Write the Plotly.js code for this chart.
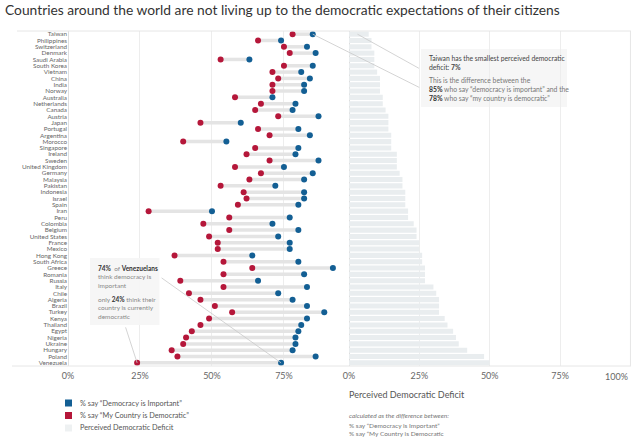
<!DOCTYPE html>
<html>
<head>
<meta charset="utf-8">
<script src="https://cdn.plot.ly/plotly-3.0.1.min.js"></script>
<style>html,body{margin:0;padding:0;background:#fff;}#chart{width:640px;height:444px;}</style>
</head>
<body>
<div id="chart"></div>
<script>
const countries = ["Taiwan","Philippines","Switzerland","Denmark","Saudi Arabia","South Korea","Vietnam","China","India","Norway","Australia","Netherlands","Canada","Austria","Japan","Portugal","Argentina","Morocco","Singapore","Ireland","Sweden","United Kingdom","Germany","Malaysia","Pakistan","Indonesia","Israel","Spain","Iran","Peru","Colombia","Belgium","United States","France","Mexico","Hong Kong","South Africa","Greece","Romania","Russia","Italy","Chile","Algeria","Brazil","Turkey","Kenya","Thailand","Egypt","Nigeria","Ukraine","Hungary","Poland","Venezuela"];

// % say "Democracy is Important"
const important = [85,74,83,86,63,85,81,84,82,82,71,79,78,87,60,80,84,55,80,79,87,75,85,82,72,82,82,80,50,77,71,80,73,77,77,64,80,92,82,66,83,73,78,83,89,83,81,80,79,79,78,86,74];

// % say "My Country is Democratic"
const myCountry = [78,66,75,77,53,75,71,73,71,71,58,67,65,73,46,66,70,40,65,62,70,58,67,63,53,61,62,59,28,56,47,56,49,52,52,37,54,64,54,39,54,42,46,51,57,49,46,43,41,40,36,38,24];

// Perceived democratic deficit (percentage points)
const deficit = [7,8,8,9,9,9,10,11,11,11,12,12,13,14,14,14,15,15,15,17,17,17,18,19,19,20,20,20,21,21,23,24,24,25,25,26,26,27,27,27,30,31,32,32,32,34,35,37,38,39,42,48,50];

const leftTicks = [0,25,50,75];
const leftTickText = ['0%','25%','50%','75%'];
const rightTicks = [0,25,50,75,100];
const rightTickText = ['0%','25%','50%','75%','100%'];
const legendLabels = ['% say “Democracy is Important”','% say “My Country is Democratic”','Perceived Democratic Deficit'];

const BLUE = '#135f94', RED = '#b5173a', BAR = '#e9edef', LINK = '#e4e4e4', TXT = '#555';
const FONT = 'Lato, "Open Sans", sans-serif';

// pixel -> paper helpers for decorations
const L = 68, R = 631, T = 31, B = 366;
const px = x => (x - L) / (R - L);
const py = y => (B - y) / (B - T);

// dumbbell connectors
const linkX = [], linkY = [];
countries.forEach((c, i) => { linkX.push(myCountry[i], important[i], null); linkY.push(c, c, null); });

const traces = [
  {type:'bar', orientation:'h', x:deficit, y:countries, xaxis:'x2', yaxis:'y',
   marker:{color:BAR}, hoverinfo:'skip', showlegend:false},
  {type:'scatter', mode:'lines', x:linkX, y:linkY, xaxis:'x', yaxis:'y',
   line:{color:LINK, width:3.5}, hoverinfo:'skip', showlegend:false, connectgaps:false},
  {type:'scatter', mode:'markers', x:myCountry, y:countries, xaxis:'x', yaxis:'y',
   marker:{color:RED, size:6}, name:legendLabels[1], showlegend:false},
  {type:'scatter', mode:'markers', x:important, y:countries, xaxis:'x', yaxis:'y',
   marker:{color:BLUE, size:6}, name:legendLabels[0], showlegend:false}
];

function txt(x, y, text, opts) {
  return Object.assign({xref:'paper', yref:'paper', x:px(x), y:py(y), text:text,
    showarrow:false, xanchor:'left', yanchor:'middle', align:'left',
    font:{family:FONT, size:6.5, color:'#666'}}, opts || {});
}
function lead(xref, x, y, ax, ay) {
  return {xref:xref, yref:'y', x:x, y:y, ax:ax, ay:ay, axref:'pixel', ayref:'pixel',
    text:'', showarrow:true, arrowhead:0, arrowwidth:0.8, arrowcolor:'#c9c9c9',
    standoff:0, startstandoff:0};
}

const C1 = 6.8, C2 = 6.5;
const DK = '<b style="color:#333">';
const annotations = [
  // Taiwan callout
  txt(427, 62.9, 'Taiwan has the smallest perceived democratic<br>deficit: <b>7%</b>', {font:{family:FONT,size:C1,color:'#444'}}),
  txt(427, 89.2, 'This is the difference between the<br>' + DK + '85%</b> who say “democracy is important” and the<br>' + DK + '78%</b> who say “my country is democratic”', {font:{family:FONT,size:C1,color:'#777'}}),
  // Venezuela callout
  txt(95.5, 276.6, DK + '74%</b>  of ' + DK + 'Venezuelans</b><br>think democracy is<br>important', {font:{family:FONT,size:C2,color:'#888'}}),
  txt(95.5, 308, 'only ' + DK + '24%</b> think their<br>country is currently<br>democratic', {font:{family:FONT,size:C2,color:'#888'}}),
  // leader lines
  lead('x', important[0], countries[0], 108, 54),
  lead('x2', 3, countries[0], 63, 35),
  lead('x', important[52], countries[52], -121, -86),
  lead('x', myCountry[52], countries[52], -12, -37),
  // last right-axis tick label, kept inside the figure as in the reference
  {xref:'x2', yref:'paper', x:100, y:py(376.5), text:rightTickText[4], showarrow:false,
   xanchor:'right', yanchor:'middle', font:{family:FONT, size:9, color:'#666'}},
  // legend
  txt(78, 403, legendLabels[0], {font:{family:FONT,size:7.3,color:TXT}}),
  txt(78, 415.5, legendLabels[1], {font:{family:FONT,size:7.3,color:TXT}}),
  txt(78, 428, legendLabels[2], {font:{family:FONT,size:7.3,color:TXT}}),
  // right axis caption
  txt(347, 394.5, 'Perceived Democratic Deficit', {font:{family:FONT,size:9,color:'#555'}}),
  txt(347, 415.5, '<i>calculated as the difference between:</i>', {font:{family:FONT,size:6.5,color:'#777'}}),
  txt(347, 425, '% say “Democracy is Important”', {font:{family:FONT,size:6.5,color:'#777'}}),
  txt(347, 434, '% say “My Country is Democratic', {font:{family:FONT,size:6.5,color:'#777'}})
];

const shapes = [
  // frame lines
  {type:'line', xref:'paper', yref:'paper', x0:px(17), x1:1, y0:1, y1:1, line:{color:'#e6e6e6', width:1}},
  {type:'line', xref:'paper', yref:'paper', x0:px(12), x1:1, y0:0, y1:0, line:{color:'#e6e6e6', width:1}},
  {type:'line', xref:'x2', yref:'paper', x0:100, x1:100, y0:0, y1:1, line:{color:'#e6e6e6', width:1}, layer:'below'},
  // callout boxes
  {type:'rect', xref:'paper', yref:'paper', x0:px(421), x1:px(567), y0:py(49), y1:py(107), fillcolor:'#f6f6f6', line:{width:0}, layer:'below'},
  {type:'rect', xref:'paper', yref:'paper', x0:px(90), x1:px(159.5), y0:py(258), y1:py(325), fillcolor:'#f6f6f6', line:{width:0}, layer:'above', opacity:0.95},
  // legend swatches
  {type:'rect', xref:'paper', yref:'paper', x0:px(65), x1:px(72), y0:py(399.5), y1:py(406.5), fillcolor:BLUE, line:{width:0}},
  {type:'rect', xref:'paper', yref:'paper', x0:px(65), x1:px(72), y0:py(412), y1:py(419), fillcolor:RED, line:{width:0}},
  {type:'rect', xref:'paper', yref:'paper', x0:px(65), x1:px(72), y0:py(424.5), y1:py(431.5), fillcolor:'#eef1f2', line:{width:0}}
];

const layout = {
  width:640, height:444,
  margin:{l:L, r:640-R, t:T, b:444-B, pad:0},
  paper_bgcolor:'#fff', plot_bgcolor:'#fff',
  font:{family:FONT, color:TXT},
  title:{text:'Countries around the world are not living up to the democratic expectations of their citizens',
    font:{family:FONT, size:13.8, color:'#333'}, x:5/640, xanchor:'left', xref:'container',
    y:1-10/444, yref:'container', yanchor:'middle'},
  showlegend:false,
  bargap:0.2,
  xaxis:{domain:[0, (345-L)/(R-L)], range:[0, 96.2], tickmode:'array', tickvals:leftTicks, ticktext:leftTickText,
    showgrid:true, gridcolor:'#ededed', gridwidth:1, zeroline:true, zerolinecolor:'#dedede', zerolinewidth:1,
    showline:false, ticks:'', tickfont:{size:9, color:'#666'}, ticklabelstandoff:3, fixedrange:true},
  xaxis2:{domain:[(349-L)/(R-L), 1], range:[0, 100.2], tickmode:'array', tickvals:rightTicks.slice(0,4), ticktext:rightTickText.slice(0,4), anchor:'y',
    showgrid:true, gridcolor:'#ededed', gridwidth:1, zeroline:true, zerolinecolor:'#dedede', zerolinewidth:1,
    showline:false, ticks:'', tickfont:{size:9, color:'#666'}, ticklabelstandoff:3, fixedrange:true},
  yaxis:{type:'category', categoryorder:'array', categoryarray:countries, range:[countries.length-0.5, -0.5], autorange:false,
    tickmode:'array', tickvals:countries, ticktext:countries,
    showgrid:false, zeroline:false, showline:false, ticks:'', tickfont:{size:6.3, color:'#666'}, fixedrange:true},
  annotations:annotations,
  shapes:shapes
};

Plotly.newPlot('chart', traces, layout, {displayModeBar:false, staticPlot:true});
</script>
</body>
</html>
